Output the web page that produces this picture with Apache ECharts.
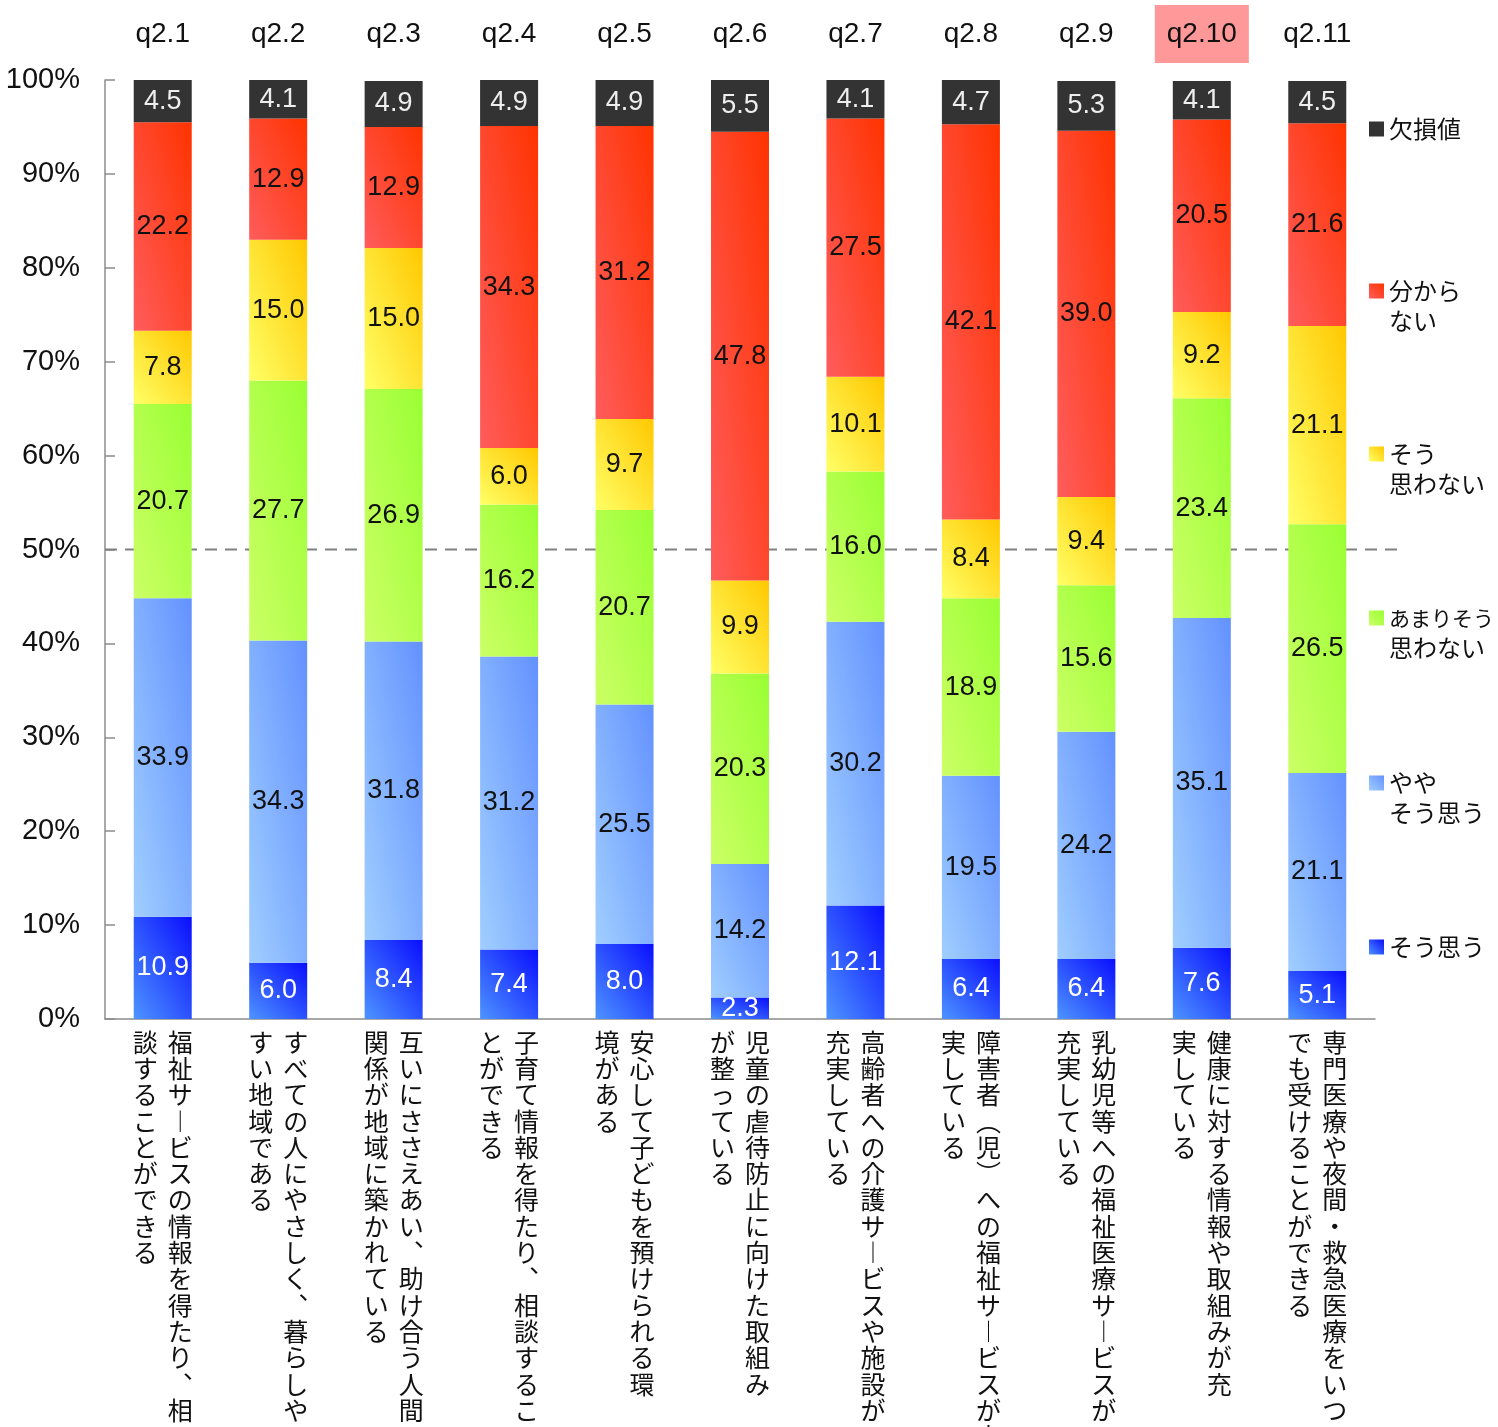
<!DOCTYPE html>
<html>
<head>
<meta charset="utf-8">
<script src="https://cdn.jsdelivr.net/npm/echarts@6/dist/echarts.min.js"></script>
<style>
  html, body { margin: 0; padding: 0; background: #ffffff; }
  #chart { width: 1498px; height: 1427px; }
</style>
</head>
<body>
<div id="chart"></div>
<script>
// Question ids (top axis) and their statements (bottom axis, two vertical columns split by \n)
const questions = ['q2.1', 'q2.2', 'q2.3', 'q2.4', 'q2.5', 'q2.6', 'q2.7', 'q2.8', 'q2.9', 'q2.10', 'q2.11'];
const highlightedQuestion = 'q2.10';
const descriptions = [
  '福祉サービスの情報を得たり、相\n談することができる',
  'すべての人にやさしく、暮らしや\nすい地域である',
  '互いにささえあい、助け合う人間\n関係が地域に築かれている',
  '子育て情報を得たり、相談するこ\nとができる',
  '安心して子どもを預けられる環\n境がある',
  '児童の虐待防止に向けた取組み\nが整っている',
  '高齢者への介護サービスや施設が\n充実している',
  '障害者(児)への福祉サービスが充\n実している',
  '乳幼児等への福祉医療サービスが\n充実している',
  '健康に対する情報や取組みが充\n実している',
  '専門医療や夜間・救急医療をいつ\nでも受けることができる'
];

// Answer shares (%), stacked from the bottom up
const soOmou          = [10.9, 6.0, 8.4, 7.4, 8.0, 2.3, 12.1, 6.4, 6.4, 7.6, 5.1];
const yayaSoOmou      = [33.9, 34.3, 31.8, 31.2, 25.5, 14.2, 30.2, 19.5, 24.2, 35.1, 21.1];
const amariSoOmowanai = [20.7, 27.7, 26.9, 16.2, 20.7, 20.3, 16.0, 18.9, 15.6, 23.4, 26.5];
const soOmowanai      = [7.8, 15.0, 15.0, 6.0, 9.7, 9.9, 10.1, 8.4, 9.4, 9.2, 21.1];
const wakaranai       = [22.2, 12.9, 12.9, 34.3, 31.2, 47.8, 27.5, 42.1, 39.0, 20.5, 21.6];
const kessonchi       = [4.5, 4.1, 4.9, 4.9, 4.9, 5.5, 4.1, 4.7, 5.3, 4.1, 4.5];

// 50% reference line
const halfLine = [50, 50];

const seriesNames = ['そう思う', 'ややそう思う', 'あまりそう思わない', 'そう思わない', '分からない', '欠損値'];
const seriesValues = [soOmou, yayaSoOmou, amariSoOmowanai, soOmowanai, wakaranai, kessonchi];
const legendLabels = {
  '欠損値': '欠損値',
  '分からない': '分から\nない',
  'そう思わない': 'そう\n思わない',
  'あまりそう思わない': '{s|あまりそう}\n思わない',
  'ややそう思う': 'やや\nそう思う',
  'そう思う': 'そう思う'
};

const JP = "'Noto Sans CJK JP', 'Noto Sans', sans-serif";
const NUM = "'Liberation Sans Narrow', 'Liberation Sans', 'Noto Sans', sans-serif";

// Layout constants of the plot
const GRID = { left: 105, right: 123, top: 80, bottom: 408 };
const CHART_H = 1427;
const BAR_W = 58;
const PX_PER_PCT = (CHART_H - GRID.top - GRID.bottom) / 100;

// Two-colour fills: from bottom-left (first) to top-right (second)
const fillStops = [
  ['#4d94ff', '#0a0eff'],
  ['#a0ceff', '#6391ff'],
  ['#ccff66', '#99ff33'],
  ['#ffff66', '#ffc800'],
  ['#ff5c5c', '#ff3300'],
  ['#333333', '#333333']
];
const labelColors = ['#ffffff', '#111111', '#111111', '#111111', '#111111', '#eeeeee'];

// Diagonal gradient whose isolines follow the rectangle's diagonal,
// so the corner-to-corner blend looks the same on any bar segment shape.
function diagGradient(stops, heightPx) {
  const h2 = heightPx * heightPx, w2 = BAR_W * BAR_W;
  const r = (h2 + w2) > 0 ? h2 / (h2 + w2) : 0.5;
  return new echarts.graphic.LinearGradient(
    0.5 - r, 0.5 + (1 - r),
    0.5 + r, 0.5 - (1 - r),
    [{ offset: 0, color: stops[0] }, { offset: 1, color: stops[1] }]
  );
}
function squareGradient(stops) {
  return new echarts.graphic.LinearGradient(0, 1, 1, 0, [
    { offset: 0, color: stops[0] }, { offset: 1, color: stops[1] }
  ]);
}

// Legend entries sit at fixed heights along the right edge
const legendCenters = { '欠損値': 129, '分からない': 291, 'そう思わない': 454, 'あまりそう思わない': 618, 'ややそう思う': 783, 'そう思う': 947 };

// Vertical writing: map glyphs to their vertical presentation forms
const VERTICAL_FORMS = { '、': '︑', 'ー': '︱', '(': '︵', ')': '︶', '（': '︵', '）': '︶' };
function verticalLabel(text) {
  const cols = text.split('\n').map(s => Array.from(s).map(ch => VERTICAL_FORMS[ch] || ch));
  const n = Math.max(...cols.map(c => c.length));
  const rows = [];
  for (let i = 0; i < n; i++) {
    let row = '';
    for (let k = cols.length - 1; k >= 0; k--) {
      row += '{c|' + (cols[k][i] || '　') + '}';
    }
    rows.push(row);
  }
  return rows.join('\n');
}

const chart = echarts.init(document.getElementById('chart'), null, { renderer: 'canvas' });

const barSeries = seriesNames.map((name, i) => ({
  name: name,
  type: 'bar',
  stack: 'total',
  xAxisIndex: 0,
  yAxisIndex: 0,
  barWidth: BAR_W,
  z: 3,
  data: seriesValues[i].map(v => ({
    value: v,
    itemStyle: { color: diagGradient(fillStops[i], v * PX_PER_PCT) }
  })),
  itemStyle: { color: squareGradient(fillStops[i]) },
  label: {
    show: true,
    position: 'inside',
    formatter: p => Number(p.value).toFixed(1),
    color: labelColors[i],
    fontFamily: NUM,
    fontSize: 27
  },
  emphasis: { disabled: true }
}));

const legends = seriesNames.map((name, i) => {
  const twoLines = legendLabels[name].indexOf('\n') >= 0;
  return {
    data: [{ name: name, itemStyle: { color: squareGradient(fillStops[i]) } }],
    orient: 'vertical',
    left: 1369,
    top: legendCenters[name] - (twoLines ? 45 : 15),
    padding: 0,
    itemWidth: 15,
    itemHeight: 15,
    icon: 'rect',
    selectedMode: false,
    // a leading empty line keeps the icon level with the first text line
    formatter: n => (twoLines ? '\n' : '') + legendLabels[n],
    textStyle: {
      fontFamily: JP,
      fontSize: 24,
      lineHeight: 30,
      color: '#111111',
      rich: {
        s: { fontFamily: JP, fontSize: 21, lineHeight: 30, color: '#111111' }
      }
    }
  };
});

chart.setOption({
  backgroundColor: '#ffffff',
  animation: false,
  legend: legends,
  grid: [
    { left: GRID.left, right: GRID.right, top: GRID.top, bottom: GRID.bottom, containLabel: false, outerBoundsMode: 'none' },
    { left: GRID.left, right: 93, top: GRID.top, bottom: GRID.bottom, containLabel: false, outerBoundsMode: 'none' }
  ],
  xAxis: [
    {
      type: 'category',
      gridIndex: 0,
      position: 'bottom',
      data: questions,
      axisLine: { show: true, lineStyle: { color: '#8c8c8c', width: 1.5 } },
      axisTick: { show: false },
      axisLabel: {
        interval: 0,
        margin: 10,
        formatter: (v, idx) => verticalLabel(descriptions[idx]),
        rich: {
          c: { width: 35, align: 'center', fontFamily: JP, fontSize: 25, lineHeight: 26.3, color: '#111111' }
        }
      }
    },
    {
      type: 'category',
      gridIndex: 0,
      position: 'top',
      data: questions,
      axisLine: { show: false },
      axisTick: { show: false },
      axisLabel: {
        interval: 0,
        margin: 31,
        formatter: v => (v === highlightedQuestion ? '{hl|' + v + '}' : '{n|' + v + '}'),
        rich: {
          n: { fontFamily: "'Liberation Sans', Arial, sans-serif", fontSize: 28, lineHeight: 30, padding: [15, 12, 15, 12], color: '#111111' },
          hl: { fontFamily: "'Liberation Sans', Arial, sans-serif", fontSize: 28, lineHeight: 30, padding: [15, 12, 15, 12], color: '#111111', backgroundColor: '#ff9999' }
        }
      }
    },
    {
      type: 'category',
      gridIndex: 1,
      boundaryGap: false,
      data: ['start', 'end'],
      show: false
    }
  ],
  yAxis: [
    {
      type: 'value',
      gridIndex: 0,
      min: 0,
      max: 100,
      interval: 10,
      axisLine: { show: true, lineStyle: { color: '#8c8c8c', width: 1.5 } },
      axisTick: { show: true, inside: true, length: 10, lineStyle: { color: '#8c8c8c', width: 1.5 } },
      splitLine: { show: false },
      axisLabel: {
        formatter: '{value}%',
        margin: 25,
        fontFamily: NUM,
        fontSize: 29,
        color: '#111111'
      }
    },
    {
      type: 'value',
      gridIndex: 1,
      min: 0,
      max: 100,
      show: false
    }
  ],
  series: [
    {
      name: '50%',
      type: 'line',
      xAxisIndex: 2,
      yAxisIndex: 1,
      data: halfLine,
      symbol: 'none',
      z: 1,
      silent: true,
      lineStyle: { color: '#808080', width: 2, type: [12, 8] }
    },
    ...barSeries
  ]
});
</script>
</body>
</html>
